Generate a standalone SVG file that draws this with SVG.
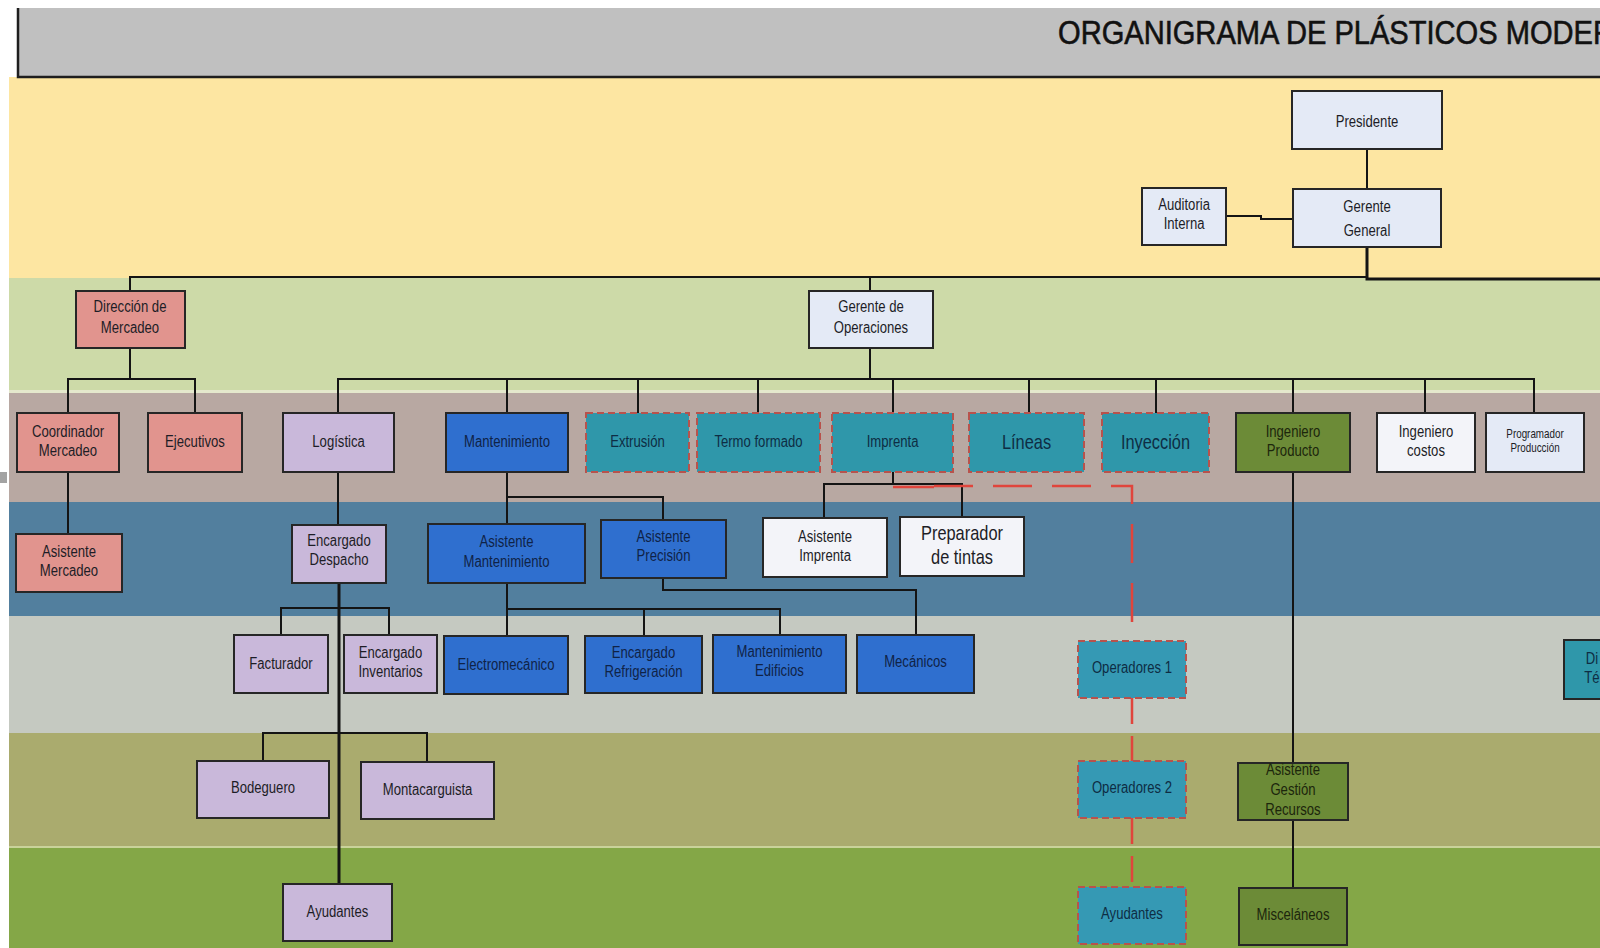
<svg xmlns="http://www.w3.org/2000/svg" width="1600" height="948" viewBox="0 0 1600 948">
  <style>
    .box{stroke:#262626;stroke-width:2}
    .dash{stroke:#b8524c;stroke-width:2;stroke-dasharray:7 4}
    .exec{fill:#e4eaf6}
    .mkt{fill:#e1948e}
    .log{fill:#c9b8da}
    .mnt{fill:#2f6fcf}
    .prod{fill:#2f97aa}
    .ops{fill:#3599b4}
    .eng{fill:#6c8b37}
    .wht{fill:#f3f4f9}
    /* condensed labels: a regular sans face squeezed horizontally around each label's centre */
    .lbl{font-family:"Liberation Sans",Arial,sans-serif;font-size:16px;text-anchor:middle;fill:#1d1d26;
         transform-box:fill-box;transform-origin:center;transform:scaleX(0.82)}
    .dk{fill:#0f2347}
    .tl{fill:#0e2d44}
    .ol{fill:#1c260c}
    .big{font-size:20px}
    .sm{font-size:12px}
    .ln{fill:none;stroke:#141414;stroke-width:2}
    .thick{stroke-width:3}
    .red{fill:none;stroke:#e0453c;stroke-width:2.5}
  </style>

  <!-- background lanes -->
  <rect x="0" y="0" width="1600" height="948" fill="#ffffff"/>
  <rect x="9" y="77" width="1591" height="201" fill="#fde6a2"/>
  <rect x="9" y="278" width="1591" height="112" fill="#cddaa8"/>
  <rect x="9" y="390" width="1591" height="112" fill="#b8a8a2"/>
  <rect x="9" y="390" width="1591" height="3" fill="#e4e8cc"/>
  <rect x="9" y="502" width="1591" height="114" fill="#527f9e"/>
  <rect x="9" y="616" width="1591" height="117" fill="#c5c9c1"/>
  <rect x="9" y="733" width="1591" height="114" fill="#aaab6e"/>
  <rect x="9" y="846" width="1591" height="2" fill="#c9d29a"/>
  <rect x="9" y="848" width="1591" height="100" fill="#84a747"/>
  <rect x="0" y="472" width="7" height="11" fill="#a3a3a3"/>

  <!-- title bar -->
  <rect x="18" y="8" width="1582" height="69" fill="#c0c0c0"/>
  <path d="M18,8 V77 H1600" fill="none" stroke="#1e1e1e" stroke-width="2.5"/>
  <text x="1058" y="44" font-family="'Liberation Sans',Arial,sans-serif" font-size="33" fill="#111" stroke="#111" stroke-width="0.6" textLength="556" lengthAdjust="spacingAndGlyphs">ORGANIGRAMA DE PLÁSTICOS MODER</text>

  <!-- connectors -->
  <g id="connectors">
    <path class="ln" d="M1367,149 V189"/>
    <path class="ln" d="M1226,216 H1261 V219 H1293"/>
    <path class="ln" d="M130,291 V277 H1367"/>
    <path class="ln thick" d="M1367,247 V279 H1600"/>
    <path class="ln" d="M870,277 V291"/>
    <path class="ln" d="M130,348 V379"/>
    <path class="ln" d="M68,413 V379 H195 V413"/>
    <path class="ln" d="M870,348 V379"/>
    <path class="ln" d="M338,413 V379 H1534 V413"/>
    <path class="ln" d="M507,379 V413 M638,379 V413 M758,379 V413 M893,379 V413 M1029,379 V413 M1156,379 V413 M1293,379 V413 M1425,379 V413"/>
    <path class="ln" d="M68,472 V534"/>
    <path class="ln" d="M338,472 V525"/>
    <path class="ln thick" d="M339,583 V884"/>
    <path class="ln" d="M281,635 V608 H389 V635"/>
    <path class="ln" d="M263,761 V733 H427 V762"/>
    <path class="ln" d="M507,472 V524"/>
    <path class="ln" d="M507,497 H663 V520"/>
    <path class="ln" d="M507,583 V636"/>
    <path class="ln" d="M507,609 H780 V635 M644,609 V636"/>
    <path class="ln" d="M663,578 V590 H916 V635"/>
    <path class="red" d="M893,487 H934"/>
    <path class="ln" d="M893,472 V484 M824,518 V484 H962 V517"/>
    <path class="red" d="M934,486 H1132 V641" stroke-dasharray="39 20"/>
    <path class="red" d="M1132,698 V761 M1132,818 V887" stroke-dasharray="26 12"/>
    <path class="ln" d="M1293,472 V763 M1293,820 V888"/>
  </g>

  <!-- executive level -->
  <g id="presidente">
    <rect class="box exec" x="1292" y="91" width="150" height="58"/>
    <text class="lbl" x="1367" y="127" font-size="20">Presidente</text>
  </g>
  <g id="gerente-general">
    <rect class="box exec" x="1293" y="189" width="148" height="58"/>
    <text class="lbl" x="1367" y="212" font-size="20">Gerente</text>
    <text class="lbl" x="1367" y="236" font-size="20">General</text>
  </g>
  <g id="auditoria-interna">
    <rect class="box exec" x="1142" y="188" width="84" height="57"/>
    <text class="lbl" x="1184" y="210" font-size="15">Auditoria</text>
    <text class="lbl" x="1184" y="229" font-size="15">Interna</text>
  </g>

  <!-- management level -->
  <g id="direccion-mercadeo">
    <rect class="box mkt" x="76" y="291" width="109" height="57"/>
    <text class="lbl" x="130" y="312">Dirección de</text>
    <text class="lbl" x="130" y="333">Mercadeo</text>
  </g>
  <g id="gerente-operaciones">
    <rect class="box exec" x="809" y="291" width="124" height="57"/>
    <text class="lbl" x="871" y="312">Gerente de</text>
    <text class="lbl" x="871" y="333">Operaciones</text>
  </g>

  <!-- department level -->
  <g id="coordinador-mercadeo">
    <rect class="box mkt" x="17" y="413" width="102" height="59"/>
    <text class="lbl" x="68" y="437">Coordinador</text>
    <text class="lbl" x="68" y="456">Mercadeo</text>
  </g>
  <g id="ejecutivos">
    <rect class="box mkt" x="148" y="413" width="94" height="59"/>
    <text class="lbl" x="195" y="447">Ejecutivos</text>
  </g>
  <g id="logistica">
    <rect class="box log" x="283" y="413" width="111" height="59"/>
    <text class="lbl" x="338.5" y="447">Logística</text>
  </g>
  <g id="mantenimiento">
    <rect class="box mnt" x="446" y="413" width="122" height="59"/>
    <text class="lbl dk" x="507" y="447">Mantenimiento</text>
  </g>
  <g id="extrusion">
    <rect class="dash prod" x="586" y="413" width="103" height="59"/>
    <text class="lbl tl" x="637.5" y="447">Extrusión</text>
  </g>
  <g id="termo-formado">
    <rect class="dash prod" x="697" y="413" width="123" height="59"/>
    <text class="lbl tl" x="758.5" y="447">Termo formado</text>
  </g>
  <g id="imprenta">
    <rect class="dash prod" x="832" y="413" width="121" height="59"/>
    <text class="lbl tl" x="892.5" y="447">Imprenta</text>
  </g>
  <g id="lineas">
    <rect class="dash prod" x="969" y="413" width="115" height="59"/>
    <text class="lbl tl big" x="1026.5" y="449">Líneas</text>
  </g>
  <g id="inyeccion">
    <rect class="dash prod" x="1102" y="413" width="107" height="59"/>
    <text class="lbl tl big" x="1155.5" y="449">Inyección</text>
  </g>
  <g id="ingeniero-producto">
    <rect class="box eng" x="1236" y="413" width="114" height="59"/>
    <text class="lbl ol" x="1293" y="437">Ingeniero</text>
    <text class="lbl ol" x="1293" y="456">Producto</text>
  </g>
  <g id="ingeniero-costos">
    <rect class="box wht" x="1377" y="413" width="98" height="59"/>
    <text class="lbl" x="1426" y="437">Ingeniero</text>
    <text class="lbl" x="1426" y="456">costos</text>
  </g>
  <g id="programador-produccion">
    <rect class="box exec" x="1486" y="413" width="98" height="59"/>
    <text class="lbl sm" x="1535" y="438">Programador</text>
    <text class="lbl sm" x="1535" y="452">Producción</text>
  </g>

  <!-- assistant level -->
  <g id="asistente-mercadeo">
    <rect class="box mkt" x="16" y="534" width="106" height="58"/>
    <text class="lbl" x="69" y="557">Asistente</text>
    <text class="lbl" x="69" y="576">Mercadeo</text>
  </g>
  <g id="encargado-despacho">
    <rect class="box log" x="292" y="525" width="94" height="58"/>
    <text class="lbl" x="339" y="546">Encargado</text>
    <text class="lbl" x="339" y="565">Despacho</text>
  </g>
  <g id="asistente-mantenimiento">
    <rect class="box mnt" x="428" y="524" width="157" height="59"/>
    <text class="lbl dk" x="506.5" y="547">Asistente</text>
    <text class="lbl dk" x="506.5" y="567">Mantenimiento</text>
  </g>
  <g id="asistente-precision">
    <rect class="box mnt" x="601" y="520" width="125" height="58"/>
    <text class="lbl dk" x="663.5" y="542">Asistente</text>
    <text class="lbl dk" x="663.5" y="561">Precisión</text>
  </g>
  <g id="asistente-imprenta">
    <rect class="box wht" x="763" y="518" width="124" height="59"/>
    <text class="lbl" x="825" y="542">Asistente</text>
    <text class="lbl" x="825" y="561">Imprenta</text>
  </g>
  <g id="preparador-tintas">
    <rect class="box wht" x="900" y="517" width="124" height="59"/>
    <text class="lbl big" x="962" y="540">Preparador</text>
    <text class="lbl big" x="962" y="564">de tintas</text>
  </g>

  <!-- operative level -->
  <g id="facturador">
    <rect class="box log" x="234" y="635" width="94" height="58"/>
    <text class="lbl" x="281" y="669">Facturador</text>
  </g>
  <g id="encargado-inventarios">
    <rect class="box log" x="344" y="635" width="93" height="58"/>
    <text class="lbl" x="390.5" y="658">Encargado</text>
    <text class="lbl" x="390.5" y="677">Inventarios</text>
  </g>
  <g id="electromecanico">
    <rect class="box mnt" x="444" y="636" width="124" height="58"/>
    <text class="lbl dk" x="506" y="670">Electromecánico</text>
  </g>
  <g id="encargado-refrigeracion">
    <rect class="box mnt" x="585" y="636" width="117" height="57"/>
    <text class="lbl dk" x="643.5" y="658">Encargado</text>
    <text class="lbl dk" x="643.5" y="677">Refrigeración</text>
  </g>
  <g id="mantenimiento-edificios">
    <rect class="box mnt" x="713" y="635" width="133" height="58"/>
    <text class="lbl dk" x="779.5" y="657">Mantenimiento</text>
    <text class="lbl dk" x="779.5" y="676">Edificios</text>
  </g>
  <g id="mecanicos">
    <rect class="box mnt" x="857" y="635" width="117" height="58"/>
    <text class="lbl dk" x="915.5" y="667">Mecánicos</text>
  </g>
  <g id="operadores-1">
    <rect class="dash ops" x="1078" y="641" width="108" height="57"/>
    <text class="lbl tl" x="1132" y="673">Operadores 1</text>
  </g>
  <g id="direccion-tecnica">
    <rect class="box prod" x="1564" y="640" width="60" height="59"/>
    <text class="lbl tl" x="1592" y="664">Di</text>
    <text class="lbl tl" x="1592" y="683">Té</text>
  </g>

  <g id="bodeguero">
    <rect class="box log" x="197" y="761" width="132" height="57"/>
    <text class="lbl" x="263" y="793">Bodeguero</text>
  </g>
  <g id="montacarguista">
    <rect class="box log" x="361" y="762" width="133" height="57"/>
    <text class="lbl" x="427.5" y="795">Montacarguista</text>
  </g>
  <g id="operadores-2">
    <rect class="dash ops" x="1078" y="761" width="108" height="57"/>
    <text class="lbl tl" x="1132" y="793">Operadores 2</text>
  </g>
  <g id="asistente-gestion-recursos">
    <rect class="box eng" x="1238" y="763" width="110" height="57"/>
    <text class="lbl ol" x="1293" y="775">Asistente</text>
    <text class="lbl ol" x="1293" y="795">Gestión</text>
    <text class="lbl ol" x="1293" y="815">Recursos</text>
  </g>

  <g id="ayudantes-logistica">
    <rect class="box log" x="283" y="884" width="109" height="57"/>
    <text class="lbl" x="337.5" y="917">Ayudantes</text>
  </g>
  <g id="ayudantes-produccion">
    <rect class="dash ops" x="1078" y="887" width="108" height="57"/>
    <text class="lbl tl" x="1132" y="919">Ayudantes</text>
  </g>
  <g id="miscelaneos">
    <rect class="box eng" x="1239" y="888" width="108" height="57"/>
    <text class="lbl ol" x="1293" y="920">Misceláneos</text>
  </g>
</svg>
